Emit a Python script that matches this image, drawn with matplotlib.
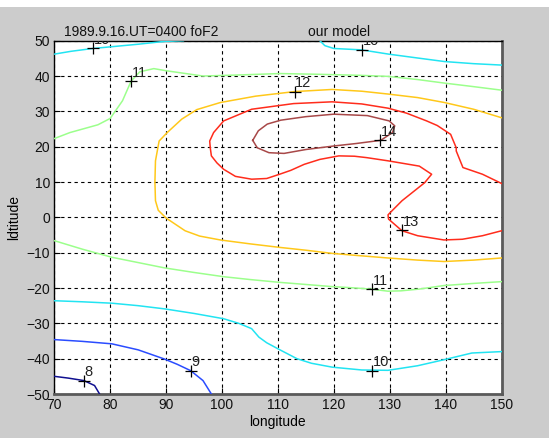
import matplotlib
matplotlib.use("Agg")
import matplotlib.pyplot as plt
from matplotlib.patches import Rectangle

plt.rcParams['font.family'] = ['Liberation Sans', 'DejaVu Sans']

# ---- data (longitude / latitude of each contour line) ----
c8_lon = [70, 72.5, 75.3, 77.2, 78.1]
c8_lat = [-45, -45.5, -46.2, -47.6, -50]

c9_lon = [70, 75, 80.3, 85, 89.7, 92, 94.4, 96.6, 98.1]
c9_lat = [-34.6, -35.1, -35.8, -37.5, -40.1, -41.6, -43.4, -46.2, -50]

c10a_lon = [70, 73, 76.9, 80.3, 85, 89.7, 93.1]
c10a_lat = [46.2, 47, 47.8, 48.3, 49, 49.8, 50]
c10b_lon = [117.5, 118.4, 120, 125, 129.8, 135, 139.8, 145, 150]
c10b_lat = [50, 48.6, 47.8, 47.4, 46.2, 45.1, 44.1, 43.5, 43.1]
c10c_lon = [70, 75, 80.3, 85, 89.7, 95, 100.3, 103, 105.3, 106.6, 108, 110, 113.4,
            116, 119.7, 125, 129.7, 135, 139.7, 144.7, 150]
c10c_lat = [-23.6, -23.9, -24.3, -25, -25.9, -27.2, -28.7, -30, -31.5, -33.9, -35.5,
            -37.2, -40, -41.3, -42.4, -43.2, -43.3, -42, -40.3, -38.4, -38]

c11a_lon = [70, 72.8, 77.8, 80, 82.2, 83.75, 85.3, 87.8, 90, 96.6, 103, 110.3, 117,
            124.7, 129.7, 135, 139.8, 145, 150]
c11a_lat = [22.3, 24, 26.2, 28, 33, 38.6, 41.2, 42.1, 41.5, 40, 40.3, 40.7, 40.5,
            40.2, 39.9, 39, 38, 37, 36]
c11b_lon = [70, 75, 80.3, 85, 89.7, 95, 100.3, 105, 110.3, 115, 119.7, 123, 126.6,
            129.7, 132, 135.3, 139.7, 145, 150]
c11b_lat = [-6.6, -9, -11.3, -12.8, -14.3, -15.6, -16.8, -17.6, -18.4, -19, -19.6,
            -19.9, -20.3, -20.9, -20.8, -20.3, -19.3, -18.7, -18.2]

c12_lon = [150, 145, 139.8, 135, 129.7, 125, 119.7, 113, 106, 99.7, 95.5, 92.8, 90.2,
           88.75, 88.1, 88.0, 88.1, 88.6, 90, 93.4, 96, 99.7, 105, 110.3, 115, 119.7,
           125, 129.7, 135, 139.7, 145, 150]
c12_lat = [28.2, 30.6, 32.5, 33.9, 34.9, 35.7, 36.2, 35.6, 34.3, 32.5, 30.5, 27.8, 24,
           21.6, 16, 10, 4.7, 2, -0.2, -3.8, -5.3, -6.4, -7.5, -8.5, -9.3, -10.2,
           -10.9, -11.5, -12.1, -12.5, -12.1, -11.5]

c13_lon = [150, 146.6, 143.1, 141.9, 141.9, 140.9, 138.5, 136.6, 133, 129.7, 125,
           119.7, 112.8, 105.3, 100.3, 98.5, 97.8, 97.9, 98.1, 99.1, 100.3, 102.4,
           105.3, 108, 110.3, 112.3, 114.7, 117.5, 120.9, 123.7, 125.9, 129.7, 135.3,
           137.5, 136.25, 132.2, 130.5, 129.7, 129.8, 132.2, 135, 139.7, 143, 146.6, 150]
c13_lat = [9.6, 12.2, 14.1, 18.8, 19.7, 23.5, 26, 27.3, 29.5, 30.9, 32.1, 32.7, 32.2,
           30.6, 27.3, 24, 21.6, 19.7, 17.4, 15.4, 13.6, 11.6, 10.8, 11, 12.2, 13.3,
           15, 16.4, 17.4, 17.3, 16.9, 16, 14.5, 12.2, 9.8, 4.7, 2, 0.7, -0.5, -3.8,
           -5.2, -6.4, -6.2, -5.2, -3.8]

c14_lon = [105.5, 106.5, 108.1, 110.5, 115, 120, 126, 129.9, 130.9, 130.5, 128.4, 124,
           120, 115, 111.1, 108.4, 106.3, 105.5]
c14_lat = [21.8, 24.5, 26.4, 27.5, 28.5, 29.2, 28.8, 27.3, 25.9, 24, 21.8, 20.9, 20.2,
           19.2, 18.1, 18.3, 19.7, 21.8]

label_vals = ['10', '10', '11', '12', '14', '13', '11', '10', '9', '8']
label_lon = [76.9, 125, 83.75, 113, 128.3, 132.2, 126.9, 126.9, 94.4, 75.3]
label_lat = [47.8, 47.4, 38.6, 35.6, 21.8, -3.6, -20.4, -43.4, -43.4, -46.2]

x_ticks = [70, 80, 90, 100, 110, 120, 130, 140, 150]
y_ticks = [-50, -40, -30, -20, -10, 0, 10, 20, 30, 40, 50]

col = {8: '#101090', 9: '#2a4cff', 10: '#22e4f2', 11: '#9cff8c',
       12: '#ffc81a', 13: '#ff2c1c', 14: '#a84848'}

# ---- figure ----
fig = plt.figure(figsize=(5.49, 4.38), dpi=100, facecolor='#cccccc')
fig.patches.append(Rectangle((0, 1 - 7 / 438), 1, 7 / 438, transform=fig.transFigure,
                             facecolor='white', edgecolor='none', zorder=0))
ax = fig.add_axes([54.3 / 549, 1 - 394 / 438, (501.5 - 54.3) / 549, (394 - 40.7) / 438])
ax.set_facecolor('white')

lines = [(c8_lon, c8_lat, 8), (c9_lon, c9_lat, 9),
         (c10a_lon, c10a_lat, 10), (c10b_lon, c10b_lat, 10), (c10c_lon, c10c_lat, 10),
         (c11a_lon, c11a_lat, 11), (c11b_lon, c11b_lat, 11),
         (c12_lon, c12_lat, 12), (c13_lon, c13_lat, 13), (c14_lon, c14_lat, 14)]
for lx, ly, lev in lines:
    ax.plot(lx, ly, color=col[lev], lw=1.1, zorder=3)

ax.plot(label_lon, label_lat, linestyle='none', marker='+', color='black',
        markersize=8, mew=0.9, zorder=4)
for v, lx, ly in zip(label_vals, label_lon, label_lat):
    t = ax.annotate(v, (lx, ly), xytext=(0.5, 1.0), textcoords='offset points',
                    ha='left', va='bottom', fontsize=10.5, color='#222222', zorder=5,
                    annotation_clip=False)
    t.set_clip_on(True)
    t.set_clip_path(ax.patch)

ax.set_xlim(70, 150)
ax.set_ylim(-50, 50)
ax.set_xticks(x_ticks)
ax.set_yticks(y_ticks)
ax.tick_params(direction='in', length=4, width=0.8, labelsize=10, pad=3,
               colors='black', labelcolor='#111111')
ax.grid(True, color='black', linestyle=(0, (3, 3)), linewidth=0.8)
ax.set_axisbelow(True)

for s in ['left', 'top']:
    ax.spines[s].set_color('black')
    ax.spines[s].set_linewidth(1.0)
for s in ['right', 'bottom']:
    ax.spines[s].set_color('#5a5a5a')
    ax.spines[s].set_linewidth(2.0)

ax.set_xlabel('longitude', fontsize=10, labelpad=2)
ax.set_ylabel('ldtitude', fontsize=10, labelpad=4)

ax.text((63.5 - 54.3) / 447.2, 1.006, '1989.9.16.UT=0400 foF2', transform=ax.transAxes,
        ha='left', va='bottom', fontsize=10, color='#111111')
ax.text((120.9 - 70) / 80, 1.006, 'our model', transform=ax.transAxes, ha='center',
        va='bottom', fontsize=10, color='#111111')

fig.savefig('out.png', dpi=100, facecolor=fig.get_facecolor())
